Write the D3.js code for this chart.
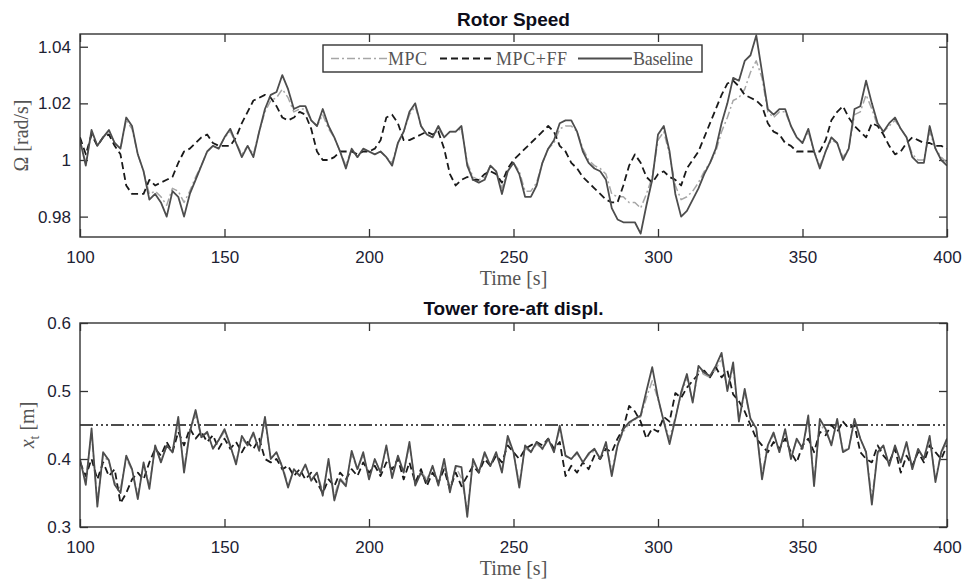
<!DOCTYPE html>
<html>
<head>
<meta charset="utf-8">
<script src="https://cdn.jsdelivr.net/npm/d3@7"></script>
<style>
  body { margin: 0; background: #fff; }
</style>
</head>
<body>
<div id="my_dataviz"></div>
<script>

// sampling of all series: every 2 s from 100 s to 400 s
var tStart = 100, tStep = 2;

// x axis ticks
var timeTicks = [100, 150, 200, 250, 300, 350, 400];

// ---- Rotor Speed [rad/s] ----
var speedTicks = [0.98, 1, 1.02, 1.04];

var speedMPC = [
  1.007, 0.999, 1.010, 1.005, 1.008, 1.010, 1.006, 1.004, 1.014, 1.011,
  1.002, 0.996, 0.988, 0.989, 0.987, 0.984, 0.990, 0.989, 0.985, 0.989,
  0.994, 0.998, 1.003, 1.005, 1.004, 1.008, 1.010, 1.006, 1.002, 1.005,
  1.002, 1.010, 1.017, 1.021, 1.022, 1.025, 1.022, 1.017, 1.018, 1.018,
  1.014, 1.012, 1.016, 1.011, 1.008, 1.003, 0.998, 1.004, 1.001, 1.004,
  1.003, 1.002, 1.003, 1.001, 0.999, 1.006, 1.010, 1.016, 1.019, 1.012,
  1.009, 1.008, 1.011, 1.008, 1.010, 1.010, 1.011, 0.999, 0.994, 0.993,
  0.994, 0.998, 0.996, 0.990, 0.996, 0.999, 0.996, 0.989, 0.989, 0.992,
  0.999, 1.004, 1.006, 1.011, 1.012, 1.012, 1.010, 1.004, 1.000, 0.998,
  0.997, 0.995, 0.988, 0.987, 0.987, 0.985, 0.985, 0.983, 0.988, 0.994,
  1.007, 1.010, 1.002, 0.991, 0.986, 0.987, 0.989, 0.992, 0.996, 0.999,
  1.003, 1.010, 1.015, 1.021, 1.022, 1.025, 1.031, 1.035, 1.029, 1.017,
  1.015, 1.017, 1.017, 1.012, 1.008, 1.006, 1.010, 1.003, 0.998, 1.003,
  1.007, 1.006, 1.001, 1.004, 1.016, 1.017, 1.023, 1.018, 1.012, 1.010,
  1.012, 1.014, 1.011, 1.008, 1.002, 1.000, 1.000, 1.010, 1.004, 1.001,
  0.999
];

var speedFF = [
  1.008, 1.002, 1.009, 1.005, 1.008, 1.009, 1.005, 1.002, 0.991, 0.988,
  0.988, 0.988, 0.993, 0.991, 0.992, 0.993, 0.994, 0.999, 1.003, 1.004,
  1.006, 1.008, 1.009, 1.006, 1.005, 1.005, 1.005, 1.008, 1.013, 1.017,
  1.021, 1.022, 1.023, 1.022, 1.019, 1.015, 1.014, 1.015, 1.017, 1.016,
  1.011, 1.003, 1.000, 1.000, 1.001, 1.003, 1.003, 1.003, 1.002, 1.003,
  1.003, 1.004, 1.007, 1.015, 1.016, 1.013, 1.007, 1.007, 1.008, 1.009,
  1.010, 1.009, 1.010, 1.004, 0.995, 0.991, 0.993, 0.994, 0.993, 0.993,
  0.995, 0.996, 0.995, 0.992, 0.997, 1.000, 1.002, 1.004, 1.006, 1.008,
  1.010, 1.012, 1.010, 1.005, 1.003, 0.999, 0.997, 0.994, 0.992, 0.990,
  0.988, 0.986, 0.985, 0.985, 0.991, 0.998, 1.002, 0.999, 0.994, 0.992,
  0.995, 0.996, 0.994, 0.993, 0.991, 0.997, 1.000, 1.003, 1.008, 1.013,
  1.018, 1.023, 1.027, 1.028, 1.026, 1.023, 1.022, 1.021, 1.019, 1.013,
  1.010, 1.009, 1.006, 1.005, 1.003, 1.003, 1.003, 1.003, 1.003, 1.007,
  1.014, 1.017, 1.019, 1.015, 1.012, 1.010, 1.008, 1.013, 1.012, 1.009,
  1.005, 1.002, 1.003, 1.006, 1.008, 1.007, 1.006, 1.006, 1.005, 1.005,
  1.004
];

var speedBaseline = [
  1.007, 0.998, 1.0106, 1.005, 1.008, 1.0106, 1.006, 1.004, 1.015, 1.012,
  1.002, 0.996, 0.986, 0.988, 0.985, 0.980, 0.989, 0.987, 0.980, 0.988,
  0.993, 0.998, 1.003, 1.005, 1.004, 1.008, 1.011, 1.006, 1.001, 1.005,
  1.001, 1.010, 1.018, 1.023, 1.024, 1.030, 1.025, 1.018, 1.019, 1.019,
  1.014, 1.012, 1.018, 1.012, 1.008, 1.003, 0.997, 1.004, 1.001, 1.004,
  1.003, 1.002, 1.003, 1.001, 0.998, 1.006, 1.010, 1.017, 1.020, 1.012,
  1.009, 1.008, 1.012, 1.008, 1.010, 1.010, 1.012, 0.998, 0.993, 0.992,
  0.993, 0.998, 0.996, 0.988, 0.996, 0.999, 0.995, 0.987, 0.987, 0.991,
  0.999, 1.004, 1.007, 1.013, 1.014, 1.014, 1.010, 1.003, 0.999, 0.997,
  0.996, 0.993, 0.983, 0.979, 0.978, 0.978, 0.978, 0.974, 0.984, 0.993,
  1.009, 1.012, 1.003, 0.988, 0.980, 0.982, 0.986, 0.990, 0.995, 0.999,
  1.004, 1.013, 1.020, 1.029, 1.028, 1.035, 1.037, 1.044, 1.031, 1.018,
  1.016, 1.018, 1.018, 1.012, 1.008, 1.006, 1.011, 1.003, 0.997, 1.003,
  1.008, 1.006, 1.000, 1.004, 1.018, 1.019, 1.028, 1.020, 1.013, 1.010,
  1.013, 1.015, 1.011, 1.008, 1.001, 0.999, 0.999, 1.012, 1.004, 1.000,
  0.998
];

// ---- Tower fore-aft displacement [m] ----
var towerTicks = [0.3, 0.4, 0.5, 0.6];
var towerLimit = [0.45];

var towerMPC = [
  0.398, 0.368, 0.438, 0.338, 0.405, 0.396, 0.366, 0.356, 0.400, 0.384,
  0.348, 0.392, 0.362, 0.416, 0.398, 0.418, 0.410, 0.455, 0.386, 0.440,
  0.465, 0.432, 0.438, 0.416, 0.428, 0.440, 0.418, 0.396, 0.430, 0.420,
  0.436, 0.414, 0.455, 0.402, 0.408, 0.390, 0.362, 0.384, 0.376, 0.390,
  0.370, 0.380, 0.352, 0.396, 0.346, 0.372, 0.362, 0.408, 0.384, 0.406,
  0.374, 0.398, 0.382, 0.416, 0.376, 0.402, 0.382, 0.420, 0.366, 0.382,
  0.370, 0.388, 0.366, 0.396, 0.358, 0.388, 0.372, 0.325, 0.396, 0.382,
  0.406, 0.390, 0.408, 0.384, 0.430, 0.408, 0.364, 0.416, 0.410, 0.422,
  0.414, 0.428, 0.412, 0.444, 0.404, 0.400, 0.408, 0.396, 0.406, 0.412,
  0.402, 0.422, 0.382, 0.420, 0.440, 0.452, 0.458, 0.462, 0.490, 0.515,
  0.488, 0.456, 0.430, 0.462, 0.495, 0.520, 0.485, 0.530, 0.524, 0.520,
  0.532, 0.548, 0.502, 0.535, 0.458, 0.498, 0.460, 0.446, 0.378, 0.420,
  0.436, 0.412, 0.442, 0.402, 0.428, 0.416, 0.458, 0.368, 0.452, 0.440,
  0.422, 0.455, 0.412, 0.416, 0.455, 0.430, 0.410, 0.342, 0.408, 0.418,
  0.392, 0.418, 0.396, 0.422, 0.388, 0.414, 0.402, 0.430, 0.372, 0.408,
  0.426
];

var towerFF = [
  0.395, 0.375, 0.400, 0.370, 0.395, 0.375, 0.385, 0.335, 0.350, 0.370,
  0.380, 0.370, 0.395, 0.415, 0.405, 0.425, 0.410, 0.440, 0.420, 0.445,
  0.430, 0.440, 0.425, 0.435, 0.415, 0.430, 0.415, 0.425, 0.410, 0.425,
  0.415, 0.430, 0.400, 0.395, 0.400, 0.385, 0.390, 0.375, 0.385, 0.370,
  0.380, 0.365, 0.350, 0.370, 0.360, 0.380, 0.370, 0.385, 0.375, 0.395,
  0.380, 0.390, 0.375, 0.395, 0.385, 0.400, 0.370, 0.395, 0.365, 0.385,
  0.360, 0.380, 0.365, 0.385, 0.355, 0.380, 0.360, 0.375, 0.390, 0.380,
  0.400, 0.390, 0.405, 0.395, 0.420, 0.410, 0.400, 0.415, 0.420, 0.425,
  0.420, 0.430, 0.415, 0.425, 0.375, 0.390, 0.380, 0.395, 0.385, 0.405,
  0.400, 0.415, 0.410, 0.430, 0.445, 0.478, 0.470, 0.455, 0.430, 0.445,
  0.440, 0.462, 0.455, 0.497, 0.490, 0.505, 0.515, 0.525, 0.530, 0.520,
  0.535, 0.520, 0.530, 0.495, 0.485, 0.470, 0.450, 0.430, 0.420, 0.410,
  0.425, 0.415, 0.430, 0.410, 0.395, 0.420, 0.430, 0.410, 0.440, 0.435,
  0.450, 0.440, 0.455, 0.445, 0.450, 0.410, 0.400, 0.395, 0.420, 0.405,
  0.395, 0.415, 0.380, 0.405, 0.390, 0.410, 0.395, 0.420, 0.410, 0.400,
  0.420
];

var towerBaseline = [
  0.400, 0.362, 0.445, 0.330, 0.410, 0.398, 0.362, 0.350, 0.405, 0.385,
  0.341, 0.395, 0.356, 0.420, 0.395, 0.420, 0.410, 0.462, 0.380, 0.440,
  0.472, 0.432, 0.440, 0.415, 0.428, 0.444, 0.420, 0.392, 0.434, 0.420,
  0.439, 0.412, 0.462, 0.400, 0.410, 0.388, 0.358, 0.385, 0.375, 0.392,
  0.368, 0.380, 0.346, 0.400, 0.339, 0.370, 0.360, 0.412, 0.385, 0.410,
  0.370, 0.400, 0.380, 0.420, 0.372, 0.405, 0.380, 0.425, 0.361, 0.380,
  0.366, 0.390, 0.361, 0.400, 0.351, 0.390, 0.388, 0.315, 0.400, 0.380,
  0.410, 0.390, 0.410, 0.380, 0.434, 0.410, 0.358, 0.420, 0.410, 0.425,
  0.415, 0.430, 0.410, 0.449, 0.405, 0.400, 0.410, 0.395, 0.408, 0.415,
  0.400, 0.425, 0.375, 0.420, 0.444, 0.454, 0.459, 0.464, 0.500, 0.535,
  0.490, 0.455, 0.422, 0.459, 0.498, 0.525, 0.483, 0.537, 0.527, 0.522,
  0.537, 0.556, 0.500, 0.542, 0.455, 0.503, 0.459, 0.445, 0.370, 0.420,
  0.439, 0.410, 0.444, 0.400, 0.430, 0.415, 0.464, 0.360, 0.459, 0.444,
  0.420, 0.459, 0.410, 0.415, 0.459, 0.430, 0.410, 0.333, 0.410, 0.420,
  0.390, 0.420, 0.395, 0.425, 0.385, 0.415, 0.400, 0.434, 0.366, 0.410,
  0.430
];

var seriesNames = ["MPC", "MPC+FF", "Baseline"];


// page and plot box
var W = 963, H = 580;
var left = 80, right = 947;

// line styles for the three controllers (drawn in this order)
var styles = [
  {name: "MPC",      stroke: "#a6a6a6", width: 1.5, dash: "8,3,2,3"},
  {name: "MPC+FF",   stroke: "#1a1a1a", width: 1.8, dash: "7,4"},
  {name: "Baseline", stroke: "#4d4d4d", width: 1.8, dash: null}
];

var svg = d3.select("#my_dataviz")
  .append("svg")
    .attr("width", W)
    .attr("height", H);

var x = d3.scaleLinear()
  .domain([100, 400])
  .range([left, right]);

function fmt(d) { return String(+d.toFixed(2)); }

var serif = "'Liberation Serif', 'Times New Roman', serif";
var sans = "'Liberation Sans', Arial, sans-serif";

function drawPanel(p) {
  var y = d3.scaleLinear()
    .domain(p.domain)
    .range([p.bottom, p.top]);

  var g = svg.append("g");

  // clip so the lines stay in the box
  svg.append("clipPath")
      .attr("id", p.id)
    .append("rect")
      .attr("x", left)
      .attr("y", p.top)
      .attr("width", right - left)
      .attr("height", p.bottom - p.top);

  // axes, ticks pointing inwards on all four sides
  var ax = [
    g.append("g").attr("transform", "translate(0," + p.bottom + ")")
      .call(d3.axisBottom(x).tickValues(timeTicks).tickSize(-8).tickPadding(14).tickFormat(d3.format("d"))),
    g.append("g").attr("transform", "translate(0," + p.top + ")")
      .call(d3.axisTop(x).tickValues(timeTicks).tickSize(-8).tickFormat("")),
    g.append("g").attr("transform", "translate(" + left + ",0)")
      .call(d3.axisLeft(y).tickValues(p.ticks).tickSize(-8).tickPadding(9).tickFormat(fmt)),
    g.append("g").attr("transform", "translate(" + right + ",0)")
      .call(d3.axisRight(y).tickValues(p.ticks).tickSize(-8).tickFormat(""))
  ];
  ax.forEach(function(a) {
    a.select(".domain").remove();
    a.selectAll(".tick line").attr("stroke", "#333").attr("stroke-width", 1.3);
    a.selectAll(".tick text")
      .attr("fill", "#1d2233")
      .style("font-family", sans)
      .style("font-size", "17px");
  });

  var line = d3.line()
    .x(function(d, i) { return x(tStart + i * tStep); })
    .y(function(d) { return y(d); });

  var lines = g.append("g").attr("clip-path", "url(#" + p.id + ")");

  // optional limit line (dash dot dot)
  if (p.limit) {
    lines.selectAll("line.limit")
      .data(p.limit)
      .enter().append("line")
        .attr("class", "limit")
        .attr("x1", left)
        .attr("x2", right)
        .attr("y1", function(d) { return y(d); })
        .attr("y2", function(d) { return y(d); })
        .attr("stroke", "#111")
        .attr("stroke-width", 1.5)
        .attr("stroke-dasharray", "13,3,2,3,2,3,2,3");
  }

  lines.selectAll("path")
    .data(p.series)
    .enter().append("path")
      .attr("fill", "none")
      .attr("stroke", function(d, i) { return styles[i].stroke; })
      .attr("stroke-width", function(d, i) { return styles[i].width; })
      .attr("stroke-dasharray", function(d, i) { return styles[i].dash; })
      .attr("stroke-linejoin", "round")
      .attr("d", line);

  // box
  g.append("rect")
    .attr("x", left)
    .attr("y", p.top)
    .attr("width", right - left)
    .attr("height", p.bottom - p.top)
    .attr("fill", "none")
    .attr("stroke", "#333")
    .attr("stroke-width", 1.4);

  // title
  g.append("text")
    .attr("x", (left + right) / 2)
    .attr("y", p.top - 8)
    .attr("text-anchor", "middle")
    .style("font-family", sans)
    .style("font-weight", "bold")
    .style("font-size", "19px")
    .attr("fill", "#0d0d1a")
    .text(p.title);

  // x label
  g.append("text")
    .attr("x", (left + right) / 2)
    .attr("y", p.bottom + 48)
    .attr("text-anchor", "middle")
    .style("font-family", serif)
    .style("font-size", "20px")
    .attr("fill", "#555")
    .text("Time [s]");

  // y label
  var yl = g.append("text")
    .attr("transform", "translate(" + p.ylabelX + "," + (p.top + p.bottom) / 2 + ") rotate(-90)")
    .attr("text-anchor", "middle")
    .style("font-family", serif)
    .style("font-size", "20px")
    .attr("fill", "#555");
  p.ylabel(yl);

  return g;
}

drawPanel({
  id: "clip-speed",
  title: "Rotor Speed",
  top: 34, bottom: 237,
  domain: [0.9728, 1.0445],
  ticks: speedTicks,
  series: [speedMPC, speedFF, speedBaseline],
  ylabelX: 28,
  ylabel: function(t) { t.text("\u03A9 [rad/s]"); }
});

drawPanel({
  id: "clip-tower",
  title: "Tower fore-aft displ.",
  top: 323, bottom: 527,
  domain: [0.3, 0.6],
  ticks: towerTicks,
  limit: towerLimit,
  series: [towerMPC, towerFF, towerBaseline],
  ylabelX: 34,
  ylabel: function(t) {
    t.append("tspan").style("font-style", "italic").text("x");
    t.append("tspan").attr("dy", 5).style("font-size", "14px").text("t");
    t.append("tspan").attr("dy", -5).text(" [m]");
  }
});


// legend in the top panel
var legend = svg.append("g");

legend.append("rect")
  .attr("x", 323)
  .attr("y", 45)
  .attr("width", 379)
  .attr("height", 27)
  .attr("fill", "#fff")
  .attr("stroke", "#333")
  .attr("stroke-width", 1.4);

var legendPos = [
  {x1: 331, x2: 387},
  {x1: 440, x2: 495},
  {x1: 578, x2: 632}
];

var item = legend.selectAll("g.item")
  .data(seriesNames)
  .enter().append("g")
    .attr("class", "item");

item.append("line")
  .attr("x1", function(d, i) { return legendPos[i].x1; })
  .attr("x2", function(d, i) { return legendPos[i].x2; })
  .attr("y1", 58.5)
  .attr("y2", 58.5)
  .attr("stroke", function(d, i) { return styles[i].stroke; })
  .attr("stroke-width", function(d, i) { return styles[i].width; })
  .attr("stroke-dasharray", function(d, i) { return styles[i].dash; });

item.append("text")
  .attr("x", function(d, i) { return legendPos[i].x2 + 1; })
  .attr("y", 65)
  .attr("textLength", function(d, i) { return [39, 71, 60][i]; })
  .style("font-family", serif)
  .style("font-size", "18px")
  .attr("fill", "#555")
  .text(function(d) { return d; });

</script>
</body>
</html>
